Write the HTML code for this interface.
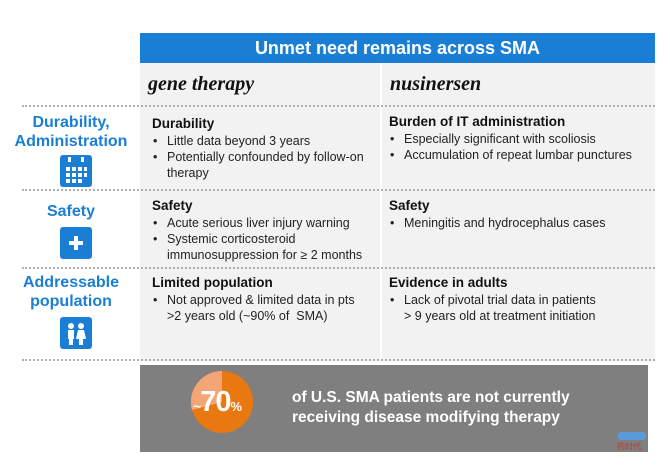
<!DOCTYPE html>
<html><head><style>
body{margin:0;width:670px;height:466px;background:#fff;position:relative;overflow:hidden;font-family:"Liberation Sans",Arial,sans-serif;}
.a{position:absolute}
.hdr{left:140px;top:33px;width:515px;height:30px;background:#1a7fd4;color:#fff;font-weight:bold;font-size:18px;text-align:center;line-height:31px}
.col{background:#f2f2f2;top:63px;height:298px}
.dot{left:22px;width:633px;border-top:2px dotted #b0b0b0;height:0}
.it{font-family:"Liberation Serif",serif;font-style:italic;font-weight:bold;font-size:20px;color:#111}
.t{font-size:12.5px;color:#222;line-height:16px}
.t b{font-size:13.5px;color:#111;display:block;margin-bottom:1px}
.t ul{margin:0;padding:0;list-style:none}
.t li{padding-left:15px;position:relative}
.t li:before{content:"•";position:absolute;left:1px}
.lab{color:#1a7fd4;font-weight:bold;font-size:16px;text-align:center;width:140px;left:1px;line-height:19px}
.ic{width:32px;height:32px;background:#1a7fd4;border-radius:3px;left:60px}
</style></head><body>
<div class="a hdr">Unmet need remains across SMA</div>
<div class="a col" style="left:140px;width:240px"></div>
<div class="a col" style="left:382px;width:273px"></div>
<div class="a it" style="left:148px;top:73px">gene therapy</div>
<div class="a it" style="left:390px;top:73px">nusinersen</div>
<div class="a dot" style="top:105px"></div>
<div class="a dot" style="top:189px"></div>
<div class="a dot" style="top:267px"></div>
<div class="a dot" style="top:359px"></div>

<div class="a lab" style="top:113px">Durability,<br>Administration</div>
<div class="a ic" style="top:155px">
<svg width="32" height="32"><g fill="#fff"><rect x="8" y="2" width="3" height="5"/><rect x="21" y="2" width="3" height="5"/>
<g><rect x="6" y="12" width="4" height="4"/><rect x="12" y="12" width="4" height="4"/><rect x="18" y="12" width="4" height="4"/><rect x="24" y="12" width="3" height="4"/>
<rect x="6" y="18" width="4" height="4"/><rect x="12" y="18" width="4" height="4"/><rect x="18" y="18" width="4" height="4"/><rect x="24" y="18" width="3" height="4"/>
<rect x="6" y="24" width="4" height="4"/><rect x="12" y="24" width="4" height="4"/><rect x="18" y="24" width="4" height="4"/></g></g></svg></div>
<div class="a lab" style="top:202px">Safety</div>
<div class="a ic" style="top:227px"><svg width="32" height="32"><g fill="#fff"><rect x="14" y="9" width="4" height="14"/><rect x="9" y="14" width="14" height="4"/></g></svg></div>
<div class="a lab" style="top:273px">Addressable<br>population</div>
<div class="a ic" style="top:317px"><svg width="32" height="32"><g fill="#fff"><circle cx="11" cy="9" r="3"/><circle cx="21" cy="9" r="3"/><rect x="8" y="13" width="6" height="9"/><rect x="9" y="21" width="4" height="7"/><path d="M18 13h6l2 9h-10z"/><rect x="19" y="21" width="4" height="7"/></g></svg></div>

<div class="a t" style="left:152px;top:116px;width:225px"><b>Durability</b><ul><li>Little data beyond 3 years</li><li>Potentially confounded by follow-on therapy</li></ul></div>
<div class="a t" style="left:389px;top:114px;width:265px"><b>Burden of IT administration</b><ul><li>Especially significant with scoliosis</li><li>Accumulation of repeat lumbar punctures</li></ul></div>
<div class="a t" style="left:152px;top:198px;width:225px"><b>Safety</b><ul><li>Acute serious liver injury warning</li><li>Systemic corticosteroid immunosuppression for ≥ 2 months</li></ul></div>
<div class="a t" style="left:389px;top:198px;width:265px"><b>Safety</b><ul><li>Meningitis and hydrocephalus cases</li></ul></div>
<div class="a t" style="left:152px;top:275px;width:225px"><b>Limited population</b><ul><li>Not approved &amp; limited data in pts<br>&gt;2 years old (~90% of &nbsp;SMA)</li></ul></div>
<div class="a t" style="left:389px;top:275px;width:265px"><b>Evidence in adults</b><ul><li>Lack of pivotal trial data in patients<br>&gt; 9 years old at treatment initiation</li></ul></div>

<div class="a" style="left:140px;top:365px;width:508px;height:87px;background:#7f7f7f"></div>
<svg class="a" style="left:190px;top:370px" width="64" height="64"><circle cx="32" cy="32" r="31" fill="#e8780f"/><path d="M32 32 L32 1 A31 31 0 0 0 2 40 Z" fill="#f4a575"/></svg>
<div class="a" style="left:193px;top:386px;color:#fff;font-weight:bold;font-size:29px;letter-spacing:-1px"><span style="font-size:14px">~</span>70<span style="font-size:13px">%</span></div>
<div class="a" style="left:292px;top:388px;color:#fff;font-weight:bold;font-size:15.5px;line-height:20px">of U.S. SMA patients are not currently<br>receiving disease modifying therapy</div>
<div class="a" style="left:618px;top:432px;width:28px;height:8px;background:#5a9ad8;border-radius:3px"></div>
<div class="a" style="left:617px;top:441px;color:#c0392b;font-size:8px">药时代</div>
</body></html>
